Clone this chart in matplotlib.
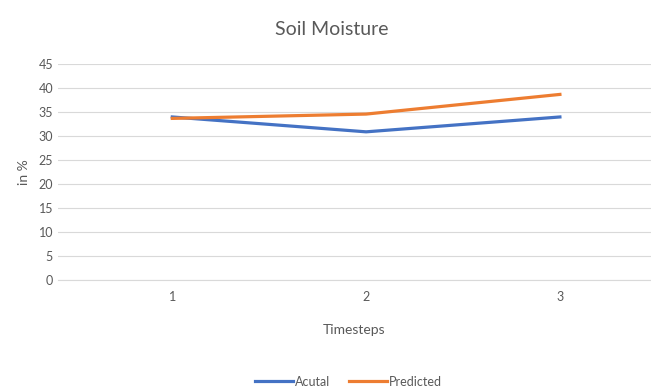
import numpy as np
from matplotlib import pyplot as plt

plt.rcParams['font.family'] = ['Lato', 'DejaVu Sans']

timesteps = [1, 2, 3]
actual = [34.0, 30.9, 34.0]
predicted = [33.7, 34.6, 38.7]

fig = plt.figure(figsize=(6.51, 3.89), dpi=100)
ax = fig.add_axes([0.089, 0.28, 0.911, 0.555])

grey = '#595959'
ax.plot(timesteps, actual, color='#4472C4', lw=2.3, label='Acutal', clip_on=False)
ax.plot(timesteps, predicted, color='#ED7D31', lw=2.3, label='Predicted', clip_on=False)

ax.set_xlim(0.41, 3.47)
ax.set_ylim(0, 45)
ax.set_yticks(np.arange(0, 46, 5))
ax.set_xticks(timesteps)
ax.grid(True, axis='y', color='#D9D9D9', lw=0.8)
ax.set_axisbelow(True)
for s in ['top', 'right', 'left']:
    ax.spines[s].set_visible(False)
ax.spines['bottom'].set_color('#D9D9D9')
ax.tick_params(length=0, colors=grey, labelsize=9)
ax.tick_params(axis='x', pad=8)

ax.set_xlabel('Timesteps', color=grey, fontsize=10, labelpad=15)
ax.set_ylabel('in %', color=grey, fontsize=10, labelpad=6)
fig.suptitle('Soil Moisture', x=0.51, y=0.945, color=grey, fontsize=14)

ax.legend(loc='upper center', bbox_to_anchor=(0.49, -0.39), ncol=2, frameon=False,
          fontsize=9, labelcolor=grey, handlelength=3, handletextpad=0.2,
          columnspacing=1.5)

plt.savefig('out.png', dpi=100)
